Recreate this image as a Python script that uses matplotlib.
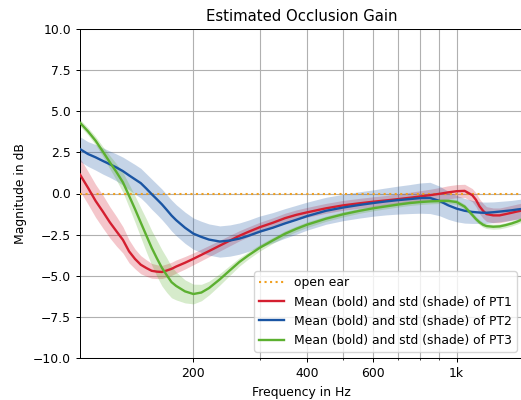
import matplotlib
matplotlib.use("Agg")
import matplotlib.pyplot as plt
import numpy as np
from matplotlib.ticker import FixedLocator, NullFormatter, LogLocator

freq = [100, 105, 110, 115, 120, 125, 130, 135, 140, 145, 150, 155, 160, 165, 170, 175, 180,
        190, 200, 210, 220, 235, 250, 265, 280,
        300, 325, 350, 375, 400,
        450, 500, 550, 600, 650, 700, 750, 800, 850, 900, 950, 1000, 1050, 1100,
        1125, 1150, 1175, 1200,
        1250, 1300, 1350, 1400, 1450, 1500]

pt1_mean = [1.15, 0.35, -0.45, -1.1, -1.75, -2.3, -2.82, -3.52, -3.98, -4.33, -4.53, -4.70, -4.75, -4.77, -4.68, -4.58, -4.44,
            -4.21, -3.97, -3.73, -3.50, -3.17, -2.86, -2.57, -2.33,
            -2.05, -1.78, -1.5, -1.3, -1.15,
            -0.9, -0.72, -0.6, -0.5, -0.42, -0.34, -0.26, -0.18, -0.1, -0.02, 0.07, 0.14, 0.16, -0.1,
            -0.38, -0.78, -1.05, -1.25,
            -1.33, -1.33, -1.25, -1.17, -1.09, -1.02]
pt1_std = [1.0, 1.0, 1.0, 1.0, 0.95, 0.9, 0.8, 0.7, 0.6, 0.55, 0.5, 0.45, 0.42, 0.4, 0.4, 0.4, 0.4,
           0.38, 0.36, 0.35, 0.34, 0.33, 0.32, 0.31, 0.3,
           0.3, 0.3, 0.3, 0.3, 0.3,
           0.3, 0.3, 0.3, 0.3, 0.3, 0.32, 0.33, 0.35, 0.36, 0.38, 0.4, 0.4, 0.4, 0.4,
           0.42, 0.45, 0.45, 0.45,
           0.45, 0.45, 0.45, 0.45, 0.45, 0.45]

pt2_mean = [2.7, 2.4, 2.2, 1.98, 1.78, 1.58, 1.36, 1.1, 0.86, 0.63, 0.30, -0.04, -0.35, -0.66, -1.0, -1.34, -1.62,
            -2.08, -2.44, -2.64, -2.80, -2.92, -2.86, -2.74, -2.57,
            -2.32, -2.08, -1.82, -1.6, -1.38,
            -1.05, -0.85, -0.7, -0.58, -0.48, -0.4, -0.34, -0.28, -0.27, -0.45, -0.72, -0.92, -1.05, -1.12,
            -1.14, -1.16, -1.17, -1.17,
            -1.14, -1.1, -1.06, -1.02, -0.97, -0.93]
pt2_std = [0.75, 0.75, 0.78, 0.8, 0.8, 0.82, 0.85, 0.88, 0.9, 0.9, 0.9, 0.92, 0.92, 0.93, 0.93, 0.94, 0.94,
           0.95, 0.95, 0.95, 0.95, 0.95, 0.95, 0.95, 0.95,
           0.95, 0.92, 0.9, 0.88, 0.85,
           0.82, 0.8, 0.8, 0.8, 0.82, 0.85, 0.88, 0.92, 0.95, 0.9, 0.85, 0.8, 0.75, 0.7,
           0.68, 0.66, 0.65, 0.65,
           0.63, 0.62, 0.61, 0.6, 0.6, 0.6]

pt3_mean = [4.3, 3.78, 3.21, 2.55, 1.9, 1.3, 0.68, -0.14, -0.95, -1.77, -2.55, -3.3, -3.94, -4.52, -4.97, -5.39, -5.62,
            -5.95, -6.11, -6.02, -5.75, -5.22, -4.67, -4.16, -3.76,
            -3.3, -2.85, -2.45, -2.15, -1.9,
            -1.53, -1.26, -1.06, -0.9, -0.78, -0.67, -0.58, -0.52, -0.48, -0.46, -0.45, -0.52, -0.8, -1.3,
            -1.55, -1.75, -1.9, -1.98,
            -2.02, -2.0, -1.92, -1.82, -1.7, -1.55]
pt3_std = [0.2, 0.22, 0.25, 0.3, 0.4, 0.5, 0.6, 0.7, 0.8, 0.9, 1.0, 1.05, 1.1, 1.1, 1.05, 0.95, 0.85,
           0.7, 0.6, 0.5, 0.42, 0.35, 0.3, 0.25, 0.22,
           0.2, 0.18, 0.18, 0.17, 0.17,
           0.16, 0.16, 0.15, 0.15, 0.15, 0.15, 0.15, 0.15, 0.15, 0.15, 0.15, 0.15, 0.15, 0.15,
           0.15, 0.15, 0.15, 0.15,
           0.15, 0.15, 0.15, 0.15, 0.15, 0.15]

series_labels = ["Mean (bold) and std (shade) of PT1",
                 "Mean (bold) and std (shade) of PT2",
                 "Mean (bold) and std (shade) of PT3"]
colors = ["#d41f30", "#1a55a3", "#5cb030"]
ref_color = "#f0a020"

xtick_vals = [200, 400, 600, 1000]
xtick_labels = ["200", "400", "600", "1k"]

S = 0.89
plt.rcParams.update({
    "font.size": 10 * S,
    "axes.titlesize": 12 * S,
    "axes.linewidth": 0.8 * S,
    "xtick.major.width": 0.8 * S,
    "ytick.major.width": 0.8 * S,
    "xtick.minor.width": 0.6 * S,
    "xtick.major.size": 3.5 * S,
    "ytick.major.size": 3.5 * S,
    "xtick.minor.size": 2 * S,
})

W, H = 521, 400
fig = plt.figure(figsize=(W / 100, H / 100), dpi=100)
ax = fig.add_axes([80 / W, (H - 358) / H, (523 - 80) / W, (358 - 29) / H])

f = np.array(freq)
ax.plot(f, np.zeros_like(f, dtype=float), linestyle=":", color=ref_color, lw=1.5, label="open ear", zorder=3)
for m, s, c, lab in zip([pt1_mean, pt2_mean, pt3_mean], [pt1_std, pt2_std, pt3_std], colors, series_labels):
    m = np.array(m); s = np.array(s)
    ax.fill_between(f, m - s, m + s, color=c, alpha=0.25, lw=0, zorder=2)
    ax.plot(f, m, color=c, lw=1.7, label=lab, zorder=4)

ax.set_xscale("log")
ax.set_xlim(100, 1500)
ax.set_ylim(-10, 10)
ax.xaxis.set_major_locator(FixedLocator(xtick_vals))
ax.set_xticklabels(xtick_labels)
ax.xaxis.set_minor_locator(LogLocator(base=10, subs=np.arange(2, 10)))
ax.xaxis.set_minor_formatter(NullFormatter())
ax.set_yticks(np.arange(-10, 10.1, 2.5))
ax.grid(True, which="both", color="#b0b0b0", lw=0.8)
ax.set_axisbelow(True)
ax.set_xlabel("Frequency in Hz")
ax.set_ylabel("Magnitude in dB")
ax.set_title("Estimated Occlusion Gain")
ax.legend(loc="lower right", framealpha=0.8)

fig.savefig("out.png", dpi=100)
